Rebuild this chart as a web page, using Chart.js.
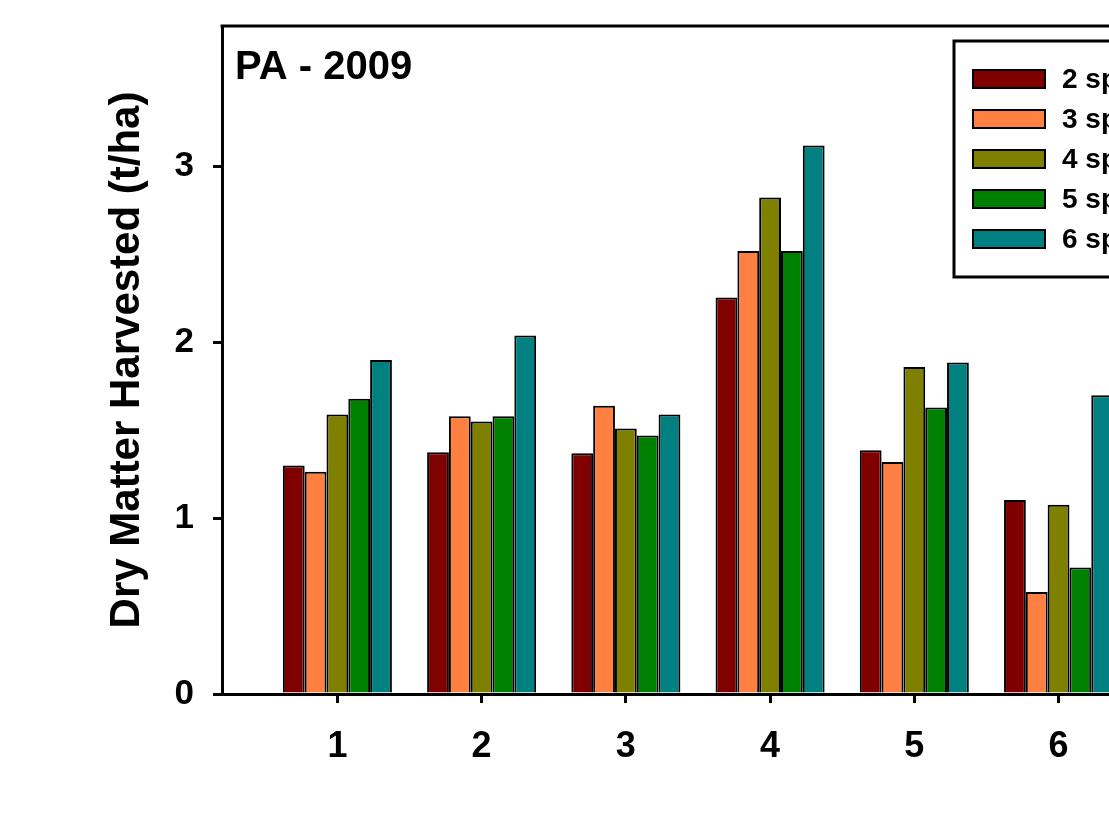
<!DOCTYPE html>
<html>
<head>
<meta charset="utf-8">
<script src="https://cdn.jsdelivr.net/npm/chart.js@4.4.1/dist/chart.umd.min.js"></script>
<style>
  html, body { margin: 0; padding: 0; background: #fff; overflow: hidden; width: 1109px; height: 840px; }
  #wrap { width: 1240px; height: 840px; position: relative; }
</style>
</head>
<body>
<div id="wrap"><canvas id="c" width="1240" height="840"></canvas></div>
<script>
// ---- data ----
const categories = [1, 2, 3, 4, 5, 6];
const seriesLabels = ['2 species', '3 species', '4 species', '5 species', '6 species'];
const species2 = [1.30, 1.375, 1.37, 2.255, 1.387, 1.104];
const species3 = [1.265, 1.58, 1.64, 2.52, 1.32, 0.58];
const species4 = [1.59, 1.55, 1.51, 2.825, 1.86, 1.077];
const species5 = [1.68, 1.58, 1.47, 2.52, 1.63, 0.72];
const species6 = [1.90, 2.04, 1.59, 3.12, 1.886, 1.70];
const yTickValues = [0, 1, 2, 3];
const chartTitle = 'PA - 2009';
const yAxisTitle = 'Dry Matter Harvested (t/ha)';

// ---- styles ----
const colors = ['#800000', '#FF8040', '#808000', '#008000', '#008080'];
const FONT = '"Liberation Sans", Arial, sans-serif';

const allSeries = [species2, species3, species4, species5, species6];
const datasets = allSeries.map((vals, i) => ({
  label: seriesLabels[i],
  data: categories.map((c, j) => ({ x: c, y: vals[j] })),
  backgroundColor: colors[i],
  borderColor: '#000',
  borderWidth: 2,
  borderSkipped: 'start',
  barPercentage: 1.0,
  categoryPercentage: 0.756
}));

const decor = {
  id: 'decor',
  afterDraw(chart) {
    const { ctx, chartArea: a } = chart;
    ctx.save();
    // frame top + right
    ctx.strokeStyle = '#000';
    ctx.lineWidth = 3;
    ctx.beginPath();
    ctx.moveTo(a.left - 1.5, a.top);
    ctx.lineTo(a.right, a.top);
    ctx.lineTo(a.right, a.bottom);
    ctx.stroke();
    // panel title
    ctx.fillStyle = '#000';
    ctx.font = 'bold 40px ' + FONT;
    ctx.textBaseline = 'alphabetic';
    ctx.textAlign = 'left';
    ctx.fillText(chartTitle, a.left + 13, a.top + 53);
    // legend box
    const bx = a.left + 732, by = a.top + 15;
    ctx.lineWidth = 3;
    ctx.strokeRect(bx, by, 250, 236);
    ctx.font = 'bold 28px ' + FONT;
    ctx.textBaseline = 'middle';
    chart.data.datasets.forEach((ds, i) => {
      const cy = by + 38 + i * 40;
      ctx.fillStyle = ds.backgroundColor;
      ctx.fillRect(bx + 19, cy - 9, 72, 18);
      ctx.lineWidth = 2;
      ctx.strokeStyle = '#000';
      ctx.strokeRect(bx + 19, cy - 9, 72, 18);
      ctx.fillStyle = '#000';
      ctx.fillText(ds.label, bx + 108, cy + 1);
    });
    ctx.restore();
  }
};

new Chart(document.getElementById('c'), {
  type: 'bar',
  data: { datasets },
  plugins: [decor],
  options: {
    responsive: false,
    animation: false,
    devicePixelRatio: 1,
    layout: { padding: { top: 26, left: 0, right: 30, bottom: 0 } },
    plugins: { legend: { display: false }, title: { display: false }, tooltip: { enabled: false } },
    scales: {
      x: {
        type: 'linear',
        offset: false,
        min: 0.2,
        max: 7.05,
        afterFit(s) { s.height = 146; s.paddingLeft = 0; s.paddingRight = 0; s.paddingTop = 0; s.paddingBottom = 0; },
        afterBuildTicks(s) { s.ticks = categories.map(v => ({ value: v })); },
        grid: { offset: false, drawOnChartArea: false, drawTicks: true, tickLength: 9, lineWidth: 3, color: '#000' },
        border: { display: true, width: 3, color: '#000' },
        ticks: { color: '#000', padding: 22, font: { family: FONT, size: 36, weight: 'bold', lineHeight: 1.2 }, maxRotation: 0 }
      },
      y: {
        min: 0,
        max: 3.8,
        afterFit(s) { s.width = 222; s.paddingTop = 0; s.paddingBottom = 0; s.paddingLeft = 0; s.paddingRight = 0; },
        afterBuildTicks(s) { s.ticks = yTickValues.map(v => ({ value: v })); },
        grid: { drawOnChartArea: false, drawTicks: true, tickLength: 9, lineWidth: 3, color: '#000' },
        border: { display: true, width: 3, color: '#000' },
        ticks: { color: '#000', padding: 19, font: { family: FONT, size: 35, weight: 'bold', lineHeight: 1.2 } },
        title: {
          display: true,
          text: yAxisTitle,
          color: '#000',
          font: { family: FONT, size: 42, weight: 'bold', lineHeight: 1.2 },
          padding: { top: 102, bottom: 0 }
        }
      }
    }
  }
});
</script>
</body>
</html>
